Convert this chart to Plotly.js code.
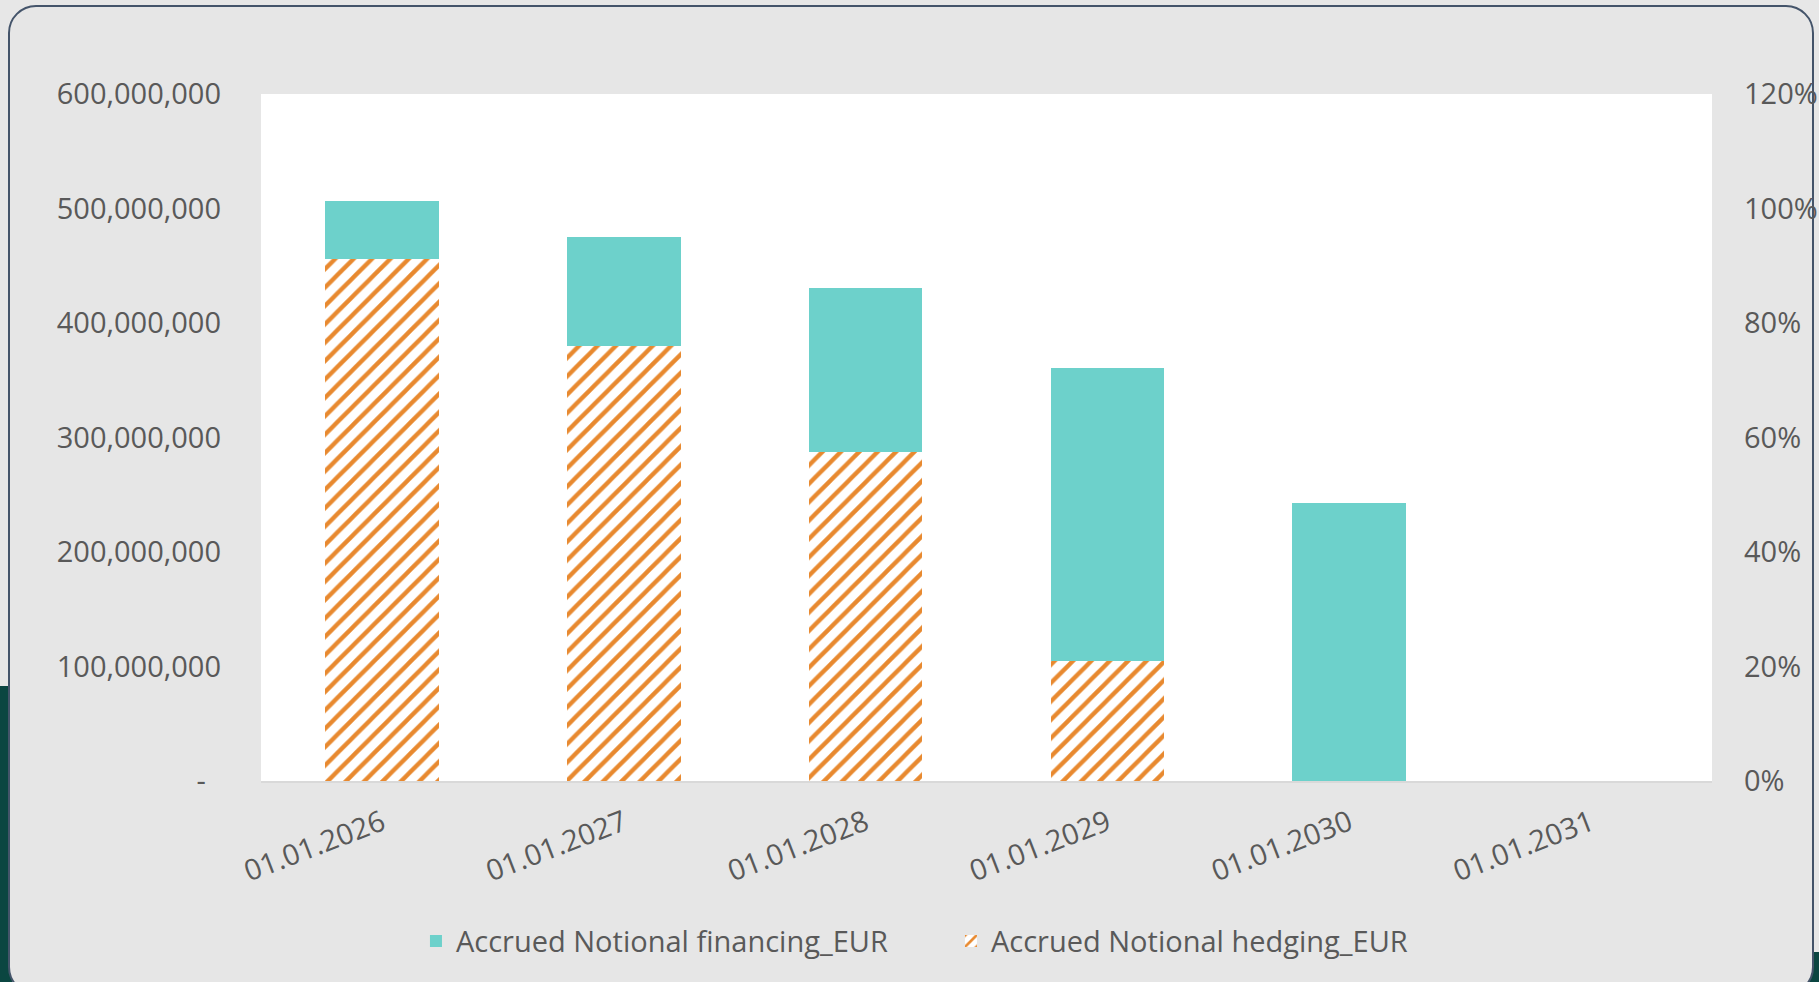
<!DOCTYPE html>
<html>
<head>
<meta charset="utf-8">
<script src="https://cdn.plot.ly/plotly-3.0.1.min.js"></script>
<style>
  html, body { margin: 0; padding: 0; width: 1819px; height: 982px; overflow: hidden; background: #e7e7e7; }
  #strip { position: absolute; left: 0; top: 686px; width: 12px; height: 296px; background: #0b4641; }
  #corner { position: absolute; right: 0; bottom: 0; width: 30px; height: 30px; background: #0b4641; }
  #frame { position: absolute; left: 8px; top: 5px; width: 1806px; height: 990px; box-sizing: border-box;
           border: 2.5px solid #44546a; border-radius: 28px; background: #e6e6e6; }
  #chart { position: absolute; left: 0; top: 0; width: 1819px; height: 982px; }
</style>
</head>
<body>
<div id="strip"></div>
<div id="corner"></div>
<div id="frame"></div>
<div id="chart"></div>
<script>
// ---- data ----
const categories = ['01.01.2026', '01.01.2027', '01.01.2028', '01.01.2029', '01.01.2030', '01.01.2031'];
const hedgingEUR = [456000000, 380000000, 287000000, 104500000, 0, 0];
const financingEUR = [50500000, 95000000, 143500000, 256000000, 242500000, 0];
const seriesNames = ['Accrued Notional financing_EUR', 'Accrued Notional hedging_EUR'];
const yTickVals = [0, 100000000, 200000000, 300000000, 400000000, 500000000, 600000000];
const yTickText = ['-\u00a0\u00a0', '100,000,000', '200,000,000', '300,000,000', '400,000,000', '500,000,000', '600,000,000'];
const y2TickVals = [0, 0.2, 0.4, 0.6, 0.8, 1.0, 1.2];
const y2TickText = ['0%', '20%', '40%', '60%', '80%', '100%', '120%'];

const fontFam = '"Open Sans", "Noto Sans", sans-serif';
const textColor = '#595959';

const traces = [
  {
    type: 'bar', name: seriesNames[1], x: categories, y: hedgingEUR,
    marker: { color: '#ffffff', line: { width: 0 },
              pattern: { shape: '/', fgcolor: '#e8892f', bgcolor: '#ffffff', size: 13, solidity: 0.33 } },
    hoverinfo: 'x+y+name'
  },
  {
    type: 'bar', name: seriesNames[0], x: categories, y: financingEUR,
    marker: { color: '#6dd1cb', line: { width: 0 } },
    hoverinfo: 'x+y+name'
  },
  {
    type: 'scatter', x: [], y: [], yaxis: 'y2', showlegend: false, hoverinfo: 'skip'
  }
];

const layout = {
  width: 1819, height: 982,
  margin: { l: 261, r: 107, t: 94, b: 201, pad: 0 },
  paper_bgcolor: 'rgba(0,0,0,0)',
  plot_bgcolor: '#ffffff',
  barmode: 'stack',
  bargap: 0.53,
  font: { family: fontFam, color: textColor, size: 29 },
  showlegend: true,
  legend: {
    orientation: 'h', traceorder: 'reversed',
    x: 0.1068, xanchor: 'left', y: -0.233, yanchor: 'middle',
    font: { family: fontFam, color: textColor, size: 29 },
    bgcolor: 'rgba(0,0,0,0)',
    entrywidth: 490, entrywidthmode: 'pixels'
  },
  xaxis: {
    type: 'category', tickangle: -21,
    tickfont: { family: fontFam, color: textColor, size: 29 },
    showgrid: false, zeroline: false,
    showline: true, linecolor: '#d9d9d9', linewidth: 2,
    ticks: '', ticklabelstandoff: 12, fixedrange: true
  },
  yaxis: {
    range: [0, 600000000],
    tickvals: yTickVals, ticktext: yTickText,
    tickfont: { family: fontFam, color: textColor, size: 29 },
    showgrid: false, zeroline: false, showline: false,
    ticks: '', ticklabelstandoff: 39, fixedrange: true
  },
  yaxis2: {
    overlaying: 'y', side: 'right',
    range: [0, 1.2],
    tickvals: y2TickVals, ticktext: y2TickText,
    tickfont: { family: fontFam, color: textColor, size: 29 },
    showgrid: false, zeroline: false, showline: false,
    ticks: '', ticklabelstandoff: 31, fixedrange: true
  }
};

Plotly.newPlot('chart', traces, layout, { displayModeBar: false, staticPlot: true });
</script>
</body>
</html>
